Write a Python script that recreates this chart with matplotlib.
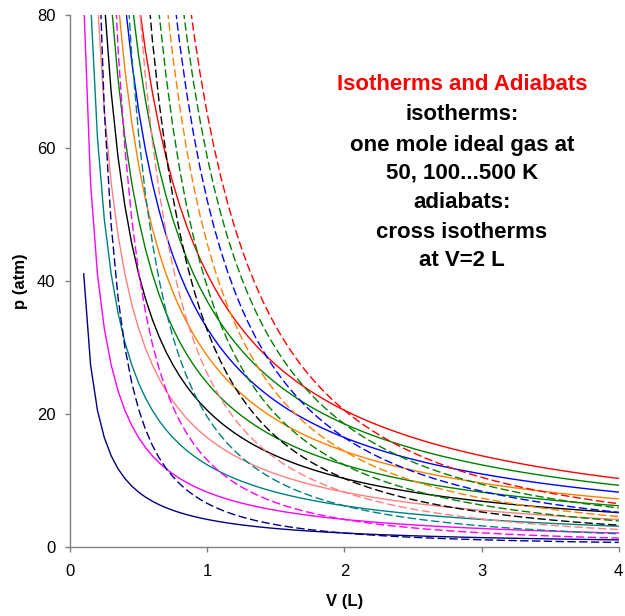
import numpy as np
import matplotlib
matplotlib.use("Agg")
import matplotlib.pyplot as plt

plt.rcParams['font.family'] = ['Liberation Sans', 'DejaVu Sans']

# one mole of ideal gas, temperatures in K
temperatures = [50, 100, 150, 200, 250, 300, 350, 400, 450, 500]
colors = ['#000080', '#FF00FF', '#008080', '#FF8080', '#000000',
          '#008000', '#FF8000', '#0000FF', '#008000', '#FF0000']

# volume grid (L) used for all curves
volumes = np.arange(0.1, 4.0001, 0.05)

R = 0.08206       # L atm / (mol K)
v_cross = 2.0     # adiabats cross isotherms here
gamma = 5.0 / 3.0 # monatomic ideal gas

title = 'Isotherms and Adiabats'
note_lines = ['isotherms:', 'one mole ideal gas at', '50, 100...500 K',
              'adiabats:', 'cross isotherms', 'at V=2 L']

W, H = 625, 616
fig = plt.figure(figsize=(W / 100, H / 100), dpi=100)
ax = fig.add_axes([70 / W, 1 - 546.7 / H, 548.7 / W, 532 / H])

for T, c in zip(temperatures, colors):
    p_iso = R * T / volumes
    ax.plot(volumes, p_iso, color=c, linewidth=1.0)

for T, c in zip(temperatures, colors):
    p_cross = R * T / v_cross
    p_adi = p_cross * (v_cross / volumes) ** gamma
    ax.plot(volumes, p_adi, color=c, linewidth=1.0, linestyle=(0, (6, 2.5)))

ax.set_xlim(0, 4)
ax.set_ylim(0, 80)
ax.set_xticks([0, 1, 2, 3, 4])
ax.set_yticks([0, 20, 40, 60, 80])
for s in ['top', 'right']:
    ax.spines[s].set_visible(False)
for s in ['left', 'bottom']:
    ax.spines[s].set_color('#808080')
    ax.spines[s].set_linewidth(1.0)
ax.tick_params(direction='out', length=3.6, width=1.0, color='#808080',
               labelsize=12)
ax.tick_params(axis='x', pad=9)
ax.tick_params(axis='y', pad=7)
ax.set_xlabel('V (L)', fontsize=12, fontweight='bold', labelpad=11)
ax.set_ylabel('p (atm)', fontsize=12, fontweight='bold', labelpad=6)

# text block, one line at a time (pixel rows from the picture)
rows = [115, 145, 173, 203, 232, 260]
fig.text(462 / W, 1 - 85 / H, title, color='#FF0000', fontsize=16,
         fontweight='bold', ha='center', va='center')
for line, r in zip(note_lines, rows):
    fig.text(462 / W, 1 - r / H, line, color='black', fontsize=16,
             fontweight='bold', ha='center', va='center')

fig.savefig('out.png', dpi=100)
